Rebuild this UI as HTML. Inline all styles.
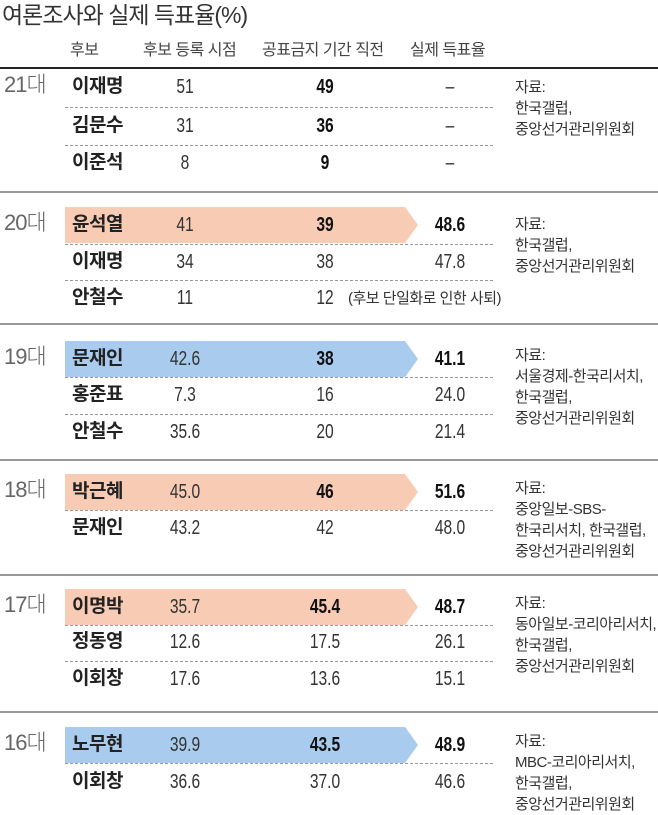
<!DOCTYPE html>
<html><head><meta charset="utf-8"><style>
body{margin:0;width:658px;height:805px;background:#fff;position:relative;overflow:hidden;font-family:"Liberation Sans","Noto Sans CJK KR",sans-serif;color:#222}
.a{position:absolute;white-space:nowrap;line-height:22px}
.t{left:2px;top:2px;font-size:23px;color:#333;letter-spacing:-1px;line-height:26px!important}
.h{top:40px;font-size:16px;color:#444;letter-spacing:-0.5px}
.line{position:absolute;left:0;width:658px}
.dot{position:absolute;left:65px;width:428px;border-top:1px dashed #999}
.per{left:4px;font-size:22px;color:#666;font-weight:300;letter-spacing:-1px}
.nm{left:72px;font-size:19px;font-weight:bold;color:#222;letter-spacing:-0.5px}
.n{font-size:20px;color:#333;transform:translateX(-50%) scaleX(.78);transform-origin:center}
.b{font-weight:bold;color:#111}
.src{left:515px;font-size:15px;line-height:21px!important;color:#333;letter-spacing:-0.5px}
</style></head><body>
<div class="a t">여론조사와 실제 득표율(%)</div>
<div class="a h" style="left:70px">후보</div>
<div class="a h" style="left:143px">후보 등록 시점</div>
<div class="a h" style="left:262px">공표금지 기간 직전</div>
<div class="a h" style="left:410px">실제 득표율</div>
<div class="line" style="top:67px;border-top:2px solid #222"></div>

<svg style="position:absolute;left:0;top:0" width="658" height="805">
<polygon points="65,207 405,207 418,225 405,243 65,243" fill="#f8cbb5"/>
<polygon points="65,341 405,341 418,359 405,377 65,377" fill="#a9cbee"/>
<polygon points="65,474 405,474 418,492 405,510 65,510" fill="#f8cbb5"/>
<polygon points="65,589 405,589 418,607 405,625 65,625" fill="#f8cbb5"/>
<polygon points="65,727 405,727 418,745 405,763 65,763" fill="#a9cbee"/>
</svg>

<div class="line" style="top:191px;border-top:2px solid #999"></div>
<div class="line" style="top:323px;border-top:2px solid #999"></div>
<div class="line" style="top:459px;border-top:2px solid #999"></div>
<div class="line" style="top:574px;border-top:2px solid #999"></div>
<div class="line" style="top:711px;border-top:2px solid #999"></div>

<div class="dot" style="top:107px"></div><div class="dot" style="top:145px"></div>
<div class="dot" style="top:244px"></div><div class="dot" style="top:280px"></div>
<div class="dot" style="top:377px"></div><div class="dot" style="top:414px"></div>
<div class="dot" style="top:510px"></div>
<div class="dot" style="top:625px"></div><div class="dot" style="top:661px"></div>
<div class="dot" style="top:763px"></div>

<!-- 21 -->
<div class="a per" style="top:74px">21대</div>
<div class="a nm" style="top:76px">이재명</div><div class="a n" style="left:185px;top:76px">51</div><div class="a n b" style="left:325px;top:76px">49</div><div class="a n" style="left:450px;top:76px">–</div>
<div class="a nm" style="top:115px">김문수</div><div class="a n" style="left:185px;top:115px">31</div><div class="a n b" style="left:325px;top:115px">36</div><div class="a n" style="left:450px;top:115px">–</div>
<div class="a nm" style="top:152px">이준석</div><div class="a n" style="left:185px;top:152px">8</div><div class="a n b" style="left:325px;top:152px">9</div><div class="a n" style="left:450px;top:152px">–</div>
<div class="a src" style="top:77px">자료:<br>한국갤럽,<br>중앙선거관리위원회</div>

<!-- 20 -->
<div class="a per" style="top:212px">20대</div>
<div class="a nm" style="top:214px">윤석열</div><div class="a n" style="left:185px;top:214px">41</div><div class="a n b" style="left:325px;top:214px">39</div><div class="a n b" style="left:450px;top:214px">48.6</div>
<div class="a nm" style="top:251px">이재명</div><div class="a n" style="left:185px;top:251px">34</div><div class="a n" style="left:325px;top:251px">38</div><div class="a n" style="left:450px;top:251px">47.8</div>
<div class="a nm" style="top:287px">안철수</div><div class="a n" style="left:185px;top:287px">11</div><div class="a n" style="left:325px;top:287px">12</div>
<div class="a" style="left:348px;top:288px;font-size:15px;color:#333;letter-spacing:-0.5px">(후보 단일화로 인한 사퇴)</div>
<div class="a src" style="top:214px">자료:<br>한국갤럽,<br>중앙선거관리위원회</div>

<!-- 19 -->
<div class="a per" style="top:346px">19대</div>
<div class="a nm" style="top:348px">문재인</div><div class="a n" style="left:185px;top:348px">42.6</div><div class="a n b" style="left:325px;top:348px">38</div><div class="a n b" style="left:450px;top:348px">41.1</div>
<div class="a nm" style="top:384px">홍준표</div><div class="a n" style="left:185px;top:384px">7.3</div><div class="a n" style="left:325px;top:384px">16</div><div class="a n" style="left:450px;top:384px">24.0</div>
<div class="a nm" style="top:421px">안철수</div><div class="a n" style="left:185px;top:421px">35.6</div><div class="a n" style="left:325px;top:421px">20</div><div class="a n" style="left:450px;top:421px">21.4</div>
<div class="a src" style="top:345px">자료:<br>서울경제-한국리서치,<br>한국갤럽,<br>중앙선거관리위원회</div>

<!-- 18 -->
<div class="a per" style="top:479px">18대</div>
<div class="a nm" style="top:481px">박근혜</div><div class="a n" style="left:185px;top:481px">45.0</div><div class="a n b" style="left:325px;top:481px">46</div><div class="a n b" style="left:450px;top:481px">51.6</div>
<div class="a nm" style="top:517px">문재인</div><div class="a n" style="left:185px;top:517px">43.2</div><div class="a n" style="left:325px;top:517px">42</div><div class="a n" style="left:450px;top:517px">48.0</div>
<div class="a src" style="top:478px">자료:<br>중앙일보-SBS-<br>한국리서치, 한국갤럽,<br>중앙선거관리위원회</div>

<!-- 17 -->
<div class="a per" style="top:594px">17대</div>
<div class="a nm" style="top:596px">이명박</div><div class="a n" style="left:185px;top:596px">35.7</div><div class="a n b" style="left:325px;top:596px">45.4</div><div class="a n b" style="left:450px;top:596px">48.7</div>
<div class="a nm" style="top:631px">정동영</div><div class="a n" style="left:185px;top:631px">12.6</div><div class="a n" style="left:325px;top:631px">17.5</div><div class="a n" style="left:450px;top:631px">26.1</div>
<div class="a nm" style="top:668px">이회창</div><div class="a n" style="left:185px;top:668px">17.6</div><div class="a n" style="left:325px;top:668px">13.6</div><div class="a n" style="left:450px;top:668px">15.1</div>
<div class="a src" style="top:593px">자료:<br>동아일보-코리아리서치,<br>한국갤럽,<br>중앙선거관리위원회</div>

<!-- 16 -->
<div class="a per" style="top:732px">16대</div>
<div class="a nm" style="top:734px">노무현</div><div class="a n" style="left:185px;top:734px">39.9</div><div class="a n b" style="left:325px;top:734px">43.5</div><div class="a n b" style="left:450px;top:734px">48.9</div>
<div class="a nm" style="top:771px">이회창</div><div class="a n" style="left:185px;top:771px">36.6</div><div class="a n" style="left:325px;top:771px">37.0</div><div class="a n" style="left:450px;top:771px">46.6</div>
<div class="a src" style="top:731px">자료:<br>MBC-코리아리서치,<br>한국갤럽,<br>중앙선거관리위원회</div>
</body></html>
